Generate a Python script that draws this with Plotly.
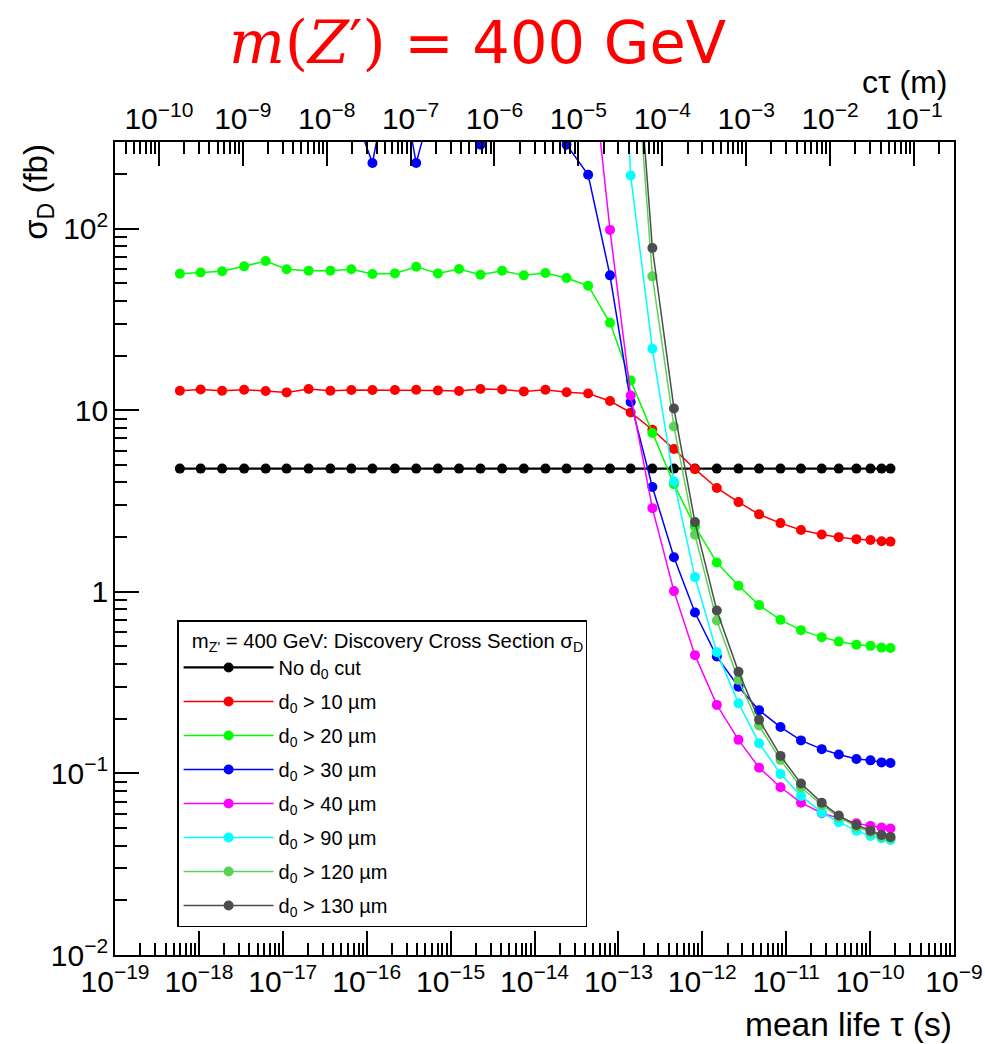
import math
import plotly.graph_objects as go

# Mean lifetime of the long-lived state (s)
tau = [5.93e-19, 1.05e-18, 1.89e-18, 3.46e-18, 6.25e-18, 1.11e-17, 2.03e-17, 3.69e-17,
       6.56e-17, 1.17e-16, 2.17e-16, 3.89e-16, 7.06e-16, 1.26e-15, 2.27e-15, 4.11e-15,
       7.46e-15, 1.35e-14, 2.41e-14, 4.36e-14, 7.94e-14, 1.40e-13, 2.54e-13, 4.59e-13,
       8.17e-13, 1.49e-12, 2.70e-12, 4.75e-12, 8.55e-12, 1.50e-11, 2.65e-11, 4.23e-11,
       6.87e-11, 1.01e-10, 1.37e-10, 1.75e-10]

# Discovery cross section sigma_D (fb) for each impact-parameter cut
sigma_no_cut = [4.77, 4.77, 4.77, 4.77, 4.77, 4.77, 4.77, 4.77, 4.77, 4.77, 4.77, 4.77,
                4.77, 4.77, 4.77, 4.77, 4.77, 4.77, 4.77, 4.77, 4.77, 4.77, 4.77, 4.77,
                4.77, 4.77, 4.77, 4.77, 4.77, 4.77, 4.77, 4.77, 4.77, 4.77, 4.77, 4.77]
sigma_d10 = [12.81, 13.02, 12.81, 12.97, 12.76, 12.54, 13.09, 12.81, 12.92, 12.92, 12.92, 12.97,
             12.86, 12.76, 13.09, 13.02, 12.70, 12.97, 12.57, 12.36, 11.24, 9.72, 7.81, 6.11,
             4.74, 3.73, 3.12, 2.67, 2.39, 2.19, 2.07, 2.00, 1.95, 1.93, 1.90, 1.89]
sigma_d20 = [56.5, 57.4, 58.2, 62.0, 66.4, 59.7, 58.7, 58.7, 59.7, 56.3, 56.7, 61.7,
             56.7, 60.0, 55.8, 58.7, 55.3, 57.0, 53.5, 48.5, 30.3, 14.6, 7.49, 3.92,
             2.29, 1.45, 1.08, 0.845, 0.701, 0.615, 0.563, 0.532, 0.511, 0.504, 0.493, 0.490]
sigma_d30 = [700, 650, 800, 900, 750, 850, 700, 600, 480, 230, 1000, 230,
             640, 500, 290, 520, 600, 800, 290, 198, 55.3, 11.1, 3.78, 1.55,
             0.769, 0.440, 0.300, 0.223, 0.180, 0.152, 0.136, 0.127, 0.120, 0.118, 0.115, 0.114]
sigma_d40 = [3000, 3200, 2900, 3100, 3300, 2800, 3000, 3200, 2900, 3100, 3000, 2800,
             3100, 2900, 3000, 2700, 2600, 2400, 2000, 1300, 98.4, 12.06, 2.89, 1.009,
             0.448, 0.2384, 0.1530, 0.1076, 0.0839, 0.0690, 0.0604, 0.0566, 0.0532, 0.0514, 0.0503, 0.0497]
sigma_d90 = [50000, 52000, 48000, 51000, 50000, 49000, 53000, 50000, 47000, 51000, 50000, 52000,
             49000, 50000, 48000, 51000, 50000, 49000, 47000, 45000, 40000, 196, 21.8, 4.05,
             1.205, 0.4653, 0.2436, 0.1467, 0.0994, 0.0752, 0.0608, 0.0539, 0.0484, 0.0452, 0.0439, 0.0430]
sigma_d120 = [20000, 21000, 19000, 20000, 22000, 20000, 19000, 21000, 20000, 20000, 19000, 21000,
              20000, 18000, 20000, 19000, 18000, 17000, 15000, 12000, 8000, 2200, 54.6, 8.14,
              2.06, 0.695, 0.3275, 0.1834, 0.1187, 0.0839, 0.0671, 0.0574, 0.0509, 0.0472, 0.0449, 0.0440]
sigma_d130 = [25000, 26000, 24000, 25000, 27000, 25000, 24000, 26000, 25000, 25000, 24000, 26000,
              25000, 23000, 25000, 24000, 23000, 22000, 20000, 16000, 10000, 3000, 78.3, 10.23,
              2.42, 0.789, 0.3624, 0.1972, 0.1249, 0.0879, 0.0690, 0.0586, 0.0520, 0.0484, 0.0458, 0.0447]

series_names = ["No d<sub>0</sub> cut", "d<sub>0</sub> > 10 µm", "d<sub>0</sub> > 20 µm",
                "d<sub>0</sub> > 30 µm", "d<sub>0</sub> > 40 µm", "d<sub>0</sub> > 90 µm",
                "d<sub>0</sub> > 120 µm", "d<sub>0</sub> > 130 µm"]
series_values = [sigma_no_cut, sigma_d10, sigma_d20, sigma_d30, sigma_d40, sigma_d90,
                 sigma_d120, sigma_d130]
series_colors = ["#000000", "#ff0000", "#00ff00", "#0000ff", "#ff00ff", "#00ffff",
                 "#59d454", "#4d4d4d"]
series_widths = [2.2, 1.5, 1.5, 1.5, 1.5, 1.5, 1.5, 1.5]

C_LIGHT = 2.998e8  # m/s
FONT = "Liberation Sans, Arial, Helvetica, sans-serif"

fig = go.Figure()
for name, vals, col, lw in zip(series_names, series_values, series_colors, series_widths):
    fig.add_trace(go.Scatter(
        x=tau, y=vals, mode="lines+markers", name=name, legendgroup=name,
        line=dict(color=col, width=lw),
        marker=dict(color=col, size=10, line=dict(width=0)),
        cliponaxis=True,
    ))

# decay length c*tau on the secondary (top) axis
fig.add_trace(go.Scatter(
    x=[C_LIGHT * t for t in tau], y=sigma_no_cut, xaxis="x2", mode="markers",
    marker=dict(opacity=0), showlegend=False, hoverinfo="skip",
))

tick_common = dict(
    type="log", dtick=1, exponentformat="power", showexponent="all", automargin=False,
    showgrid=False, zeroline=False, showline=True, linecolor="black", linewidth=2,
    ticks="inside", ticklen=24, tickwidth=1.5, tickcolor="black",
    minor=dict(ticks="inside", ticklen=12, tickwidth=1.5, tickcolor="black", showgrid=False),
    tickfont=dict(family=FONT, size=24, color="black"),
)

title_text = ('<i>m</i>(<i>Z</i>′) <span style="font-family:DejaVu Sans, sans-serif">'
              '= 400 GeV</span>')

fig.update_layout(
    width=985, height=1044,
    margin=dict(l=115, r=31, t=142, b=89, autoexpand=False),
    paper_bgcolor="white", plot_bgcolor="white",
    font=dict(family=FONT, color="black"),
    xaxis=dict(range=[-19, -9], **tick_common),
    xaxis2=dict(range=[math.log10(C_LIGHT * 1e-19), math.log10(C_LIGHT * 1e-9)],
                overlaying="x", side="top", anchor="y", **tick_common),
    yaxis=dict(range=[-2, math.log10(300)], mirror=True, **tick_common),
    showlegend=True,
    legend=dict(
        x=0.074, y=0.412, xanchor="left", yanchor="top",
        bgcolor="white", bordercolor="black", borderwidth=1.5,
        font=dict(family=FONT, size=20, color="black"),
        title=dict(text="&nbsp;&nbsp;m<sub>Z'</sub> = 400 GeV: Discovery Cross Section σ<sub>D</sub>",
                   font=dict(family=FONT, size=20.3, color="black")),
        traceorder="grouped", tracegroupgap=5, itemwidth=90,
    ),
    annotations=[
        dict(text=title_text, xref="paper", yref="paper",
             x=0.4315, y=1.123, xanchor="center", yanchor="middle", showarrow=False,
             font=dict(family="DejaVu Serif, serif", size=59, color="#ff0000")),
        dict(text="cτ (m)", xref="paper", yref="paper", x=0.995, y=1.074,
             xanchor="right", yanchor="middle", showarrow=False,
             font=dict(family=FONT, size=32)),
        dict(text="mean life τ (s)", xref="paper", yref="paper", x=1.0, y=-0.086,
             xanchor="right", yanchor="middle", showarrow=False,
             font=dict(family=FONT, size=33.5)),
        dict(text="σ<sub>D</sub> (fb)", xref="paper", yref="paper", x=-0.092, y=1.0,
             xanchor="center", yanchor="top", textangle=-90, showarrow=False,
             font=dict(family=FONT, size=33)),
    ],
)

fig.write_html("out.html")
